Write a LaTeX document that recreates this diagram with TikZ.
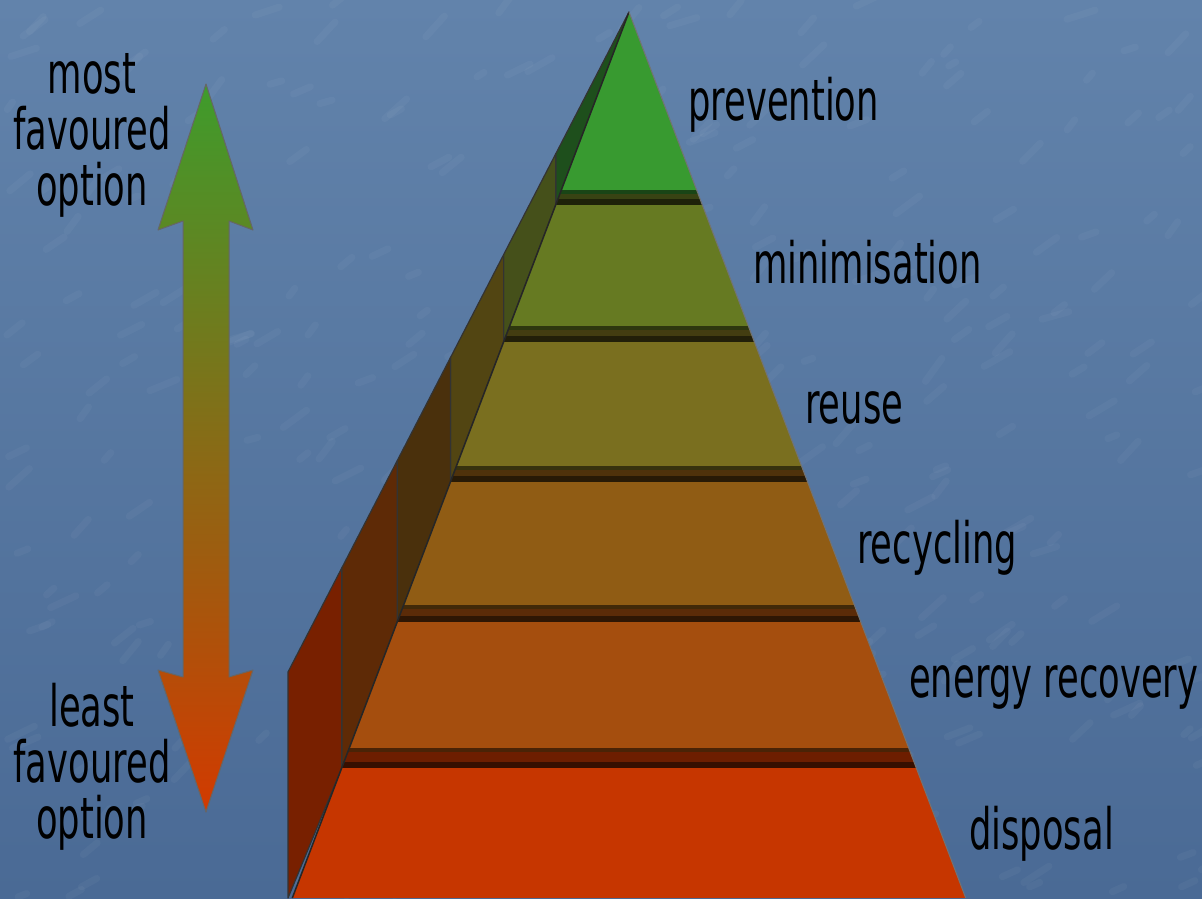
\documentclass[tikz,border=0pt]{standalone}
\usepackage{fontspec}
\usepackage{tikz}
\usetikzlibrary{calc,positioning}
\newfontfamily\wlFont[FakeStretch=0.62]{DejaVu Sans}
\definecolor{wlSkyTop}{HTML}{6283AB}
\definecolor{wlSkyBottom}{HTML}{4A6A95}
\definecolor{wlPrevention}{HTML}{389A30}
\definecolor{wlMinimisation}{HTML}{667A22}
\definecolor{wlReuse}{HTML}{7A6F1F}
\definecolor{wlRecycling}{HTML}{905C14}
\definecolor{wlRecovery}{HTML}{A54E0E}
\definecolor{wlDisposal}{HTML}{C63600}
\definecolor{wlSideA}{HTML}{1E4F1C}
\definecolor{wlSideB}{HTML}{45501A}
\definecolor{wlSideC}{HTML}{524512}
\definecolor{wlSideD}{HTML}{4A300C}
\definecolor{wlSideE}{HTML}{5E2A06}
\definecolor{wlSideF}{HTML}{782000}
\definecolor{wlArrowTop}{HTML}{3E9C2C}
\definecolor{wlArrowMid}{HTML}{7A6A1C}
\definecolor{wlArrowBottom}{HTML}{D23A00}
\tikzset{
    wlLabel/.style={font=\wlFont\fontsize{57}{56}\selectfont, inner sep=0pt, anchor=base west, text=black},
    wlNote/.style={font=\wlFont\fontsize{57}{56}\selectfont, inner sep=0pt, anchor=base, align=center, text=black},
    wlSide/.style={draw=black!80, line width=1.2pt, line join=round},
    wlArrow/.style={top color=wlArrowTop, middle color=wlArrowMid, bottom color=wlArrowBottom, draw=black!60, line width=1pt, line join=round},
    wlGrain/.style={white, opacity=0.035, line width=7pt, line cap=round}
}
\begin{document}
\begin{tikzpicture}[x=1pt,y=-1pt]
    % Canvas
    \useasboundingbox (0,0) rectangle (1202,898);
    \shade[top color=wlSkyTop, bottom color=wlSkyBottom] (0,0) rectangle (1202,898);
    \pgfmathsetseed{42}
    \foreach \i in {1,...,320} {
        \pgfmathsetmacro{\gx}{rnd*1202}
        \pgfmathsetmacro{\gy}{rnd*898}
        \pgfmathsetmacro{\gl}{8+rnd*22}
        \pgfmathsetmacro{\ga}{15+rnd*40}
        \draw[wlGrain] (\gx,\gy) -- ++(-\ga:\gl);
    }

    % Side faces of the steps
    \foreach \ax/\ay/\bx/\by/\yn/\yt/\col in {
        629/12/555.7/153.9/205/12/wlSideA,
        555.7/153.9/503.6/254.7/342/205/wlSideB,
        503.6/254.7/450.4/357.7/482/342/wlSideC,
        450.4/357.7/397.2/460.7/622/482/wlSideD,
        397.2/460.7/341.7/568.1/768/622/wlSideE,
        341.7/568.1/288/672/898/768/wlSideF}
        \filldraw[wlSide, fill=\col] (\ax,\ay) -- (\bx,\by) -- (\bx,\yn) -- (\ax,\yt) -- cycle;

    % Front faces with the dark steps between them
    \begin{scope}
        \clip (629,12) -- (965.7,898) -- (292.3,898) -- cycle;
        \foreach \yt/\yb/\yn/\cola/\colb in {
            12/190/205/wlPrevention/wlMinimisation,
            205/326/342/wlMinimisation/wlReuse,
            342/466/482/wlReuse/wlRecycling,
            482/605/622/wlRecycling/wlRecovery,
            622/748/768/wlRecovery/wlDisposal}
        {
            \fill[\cola] (280,\yt) rectangle (980,\yb);
            \fill[\cola!45!black] (280,\yb) rectangle (980,{\yb+4});
            \fill[\colb!55!black] (280,{\yb+4}) rectangle (980,{\yn-6});
            \fill[\colb!28!black] (280,{\yn-6}) rectangle (980,\yn);
        }
        \fill[wlDisposal] (280,768) rectangle (980,898);
    \end{scope}
    \draw[black!85, line width=1.5pt] (629,12) -- (292.3,898);
    \draw[black!55, line width=1pt] (629,12) -- (965.7,898);

    % Preference arrow
    \shadedraw[wlArrow] (206,84) -- (253,230) -- (229,221) -- (229,677) -- (253,670)
        -- (206,812) -- (158,670) -- (183,677) -- (183,221) -- (158,230) -- cycle;
    \node[wlNote] (mostFav) at (92,205) {most\\favoured\\option};
    \node[wlNote] (leastFav) at (92,838) {least\\favoured\\option};

    % Hierarchy labels
    \node[wlLabel] (prevention) at (688,120) {prevention};
    \node[wlLabel] (minimisation) at (753,283) {minimisation};
    \node[wlLabel] (reuse) at (805,423) {reuse};
    \node[wlLabel] (recycling) at (857,563) {recycling};
    \node[wlLabel] (recovery) at (909,697) {energy recovery};
    \node[wlLabel] (disposal) at (969,849) {disposal};
\end{tikzpicture}
\end{document}
